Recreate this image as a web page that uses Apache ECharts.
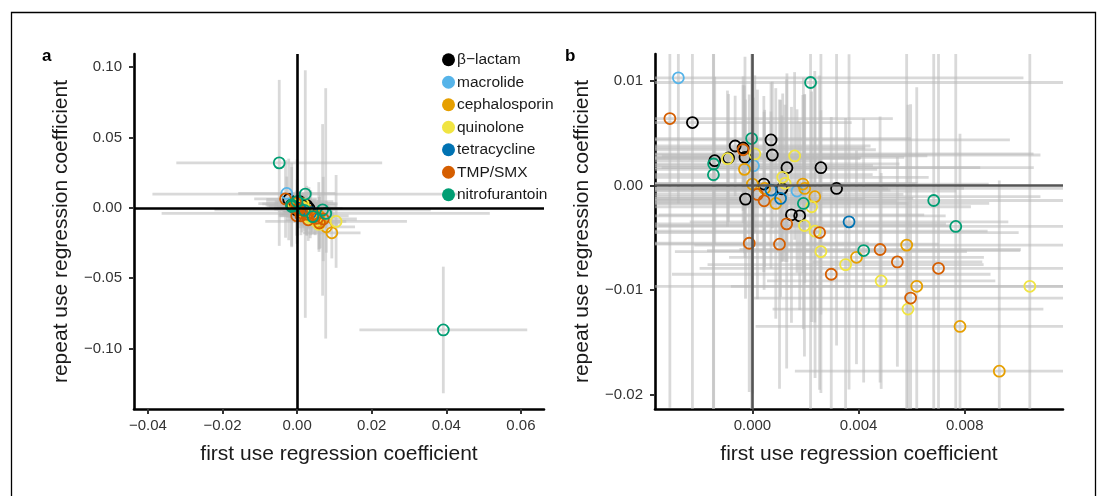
<!DOCTYPE html>
<html><head><meta charset="utf-8">
<script src="https://cdn.jsdelivr.net/npm/echarts@6/dist/echarts.min.js"></script>
<style>html,body{margin:0;padding:0;background:#fff}#c{width:1099px;height:496px}</style>
</head><body><div id="c"></div>
<script>
// ---------- data ----------
const drugClasses = ['β−lactam','macrolide','cephalosporin','quinolone','tetracycline','TMP/SMX','nitrofurantoin'];
const classOfPoint = [
  0,0,0,0,0,0,0,0,0,0,0,0,0,0,0,0,
  1,1,1,
  2,2,2,2,2,2,2,2,2,2,2,2,
  3,3,3,3,3,3,3,3,3,3,3,3,3,
  4,4,4,
  5,5,5,5,5,5,5,5,5,5,5,5,5,
  6,6,6,6,6,6,6,6,6,6
];
const firstUse = [
  -0.00226,0.0007,-0.00065,-0.00035,0.00075,-0.00028,-0.0009,-0.00142,0.0013,0.00258,0.00043,0.00317,0.00111,-0.00026,0.00147,0.00178,
  -0.00279,0.00004,0.00168,
  -0.0003,0.0,0.0019,0.00197,0.00046,0.00088,0.00235,0.00581,0.00392,0.00619,0.00782,0.0093,
  0.00009,0.00159,-0.00094,0.00114,0.00123,0.00223,0.00196,0.00236,0.00258,0.00351,0.00485,0.01045,0.00586,
  0.0007,0.00106,0.00364,
  -0.00311,-0.00035,0.00019,0.00044,0.00129,0.00253,-0.00012,0.00102,0.00481,0.00546,0.00701,0.00297,0.00596,
  0.00219,-0.00003,-0.00146,-0.00147,0.00192,0.00419,0.00683,0.00766,-0.0048,0.0392
];
const repeatUse = [
  0.0060,0.00434,0.00376,0.00357,0.0029,0.00268,0.00262,0.00236,0.00169,0.00169,0.00013,-0.00029,-0.00032,-0.00131,-0.00281,-0.0029,
  0.01027,0.00188,-0.00054,
  0.00153,0.00013,0.00013,-0.00029,-0.00029,-0.00172,-0.00108,-0.0057,-0.00686,-0.00963,-0.01346,-0.01773,
  0.003,0.00281,0.00255,0.00077,0.0002,-0.00204,-0.00383,-0.00437,-0.00632,-0.00756,-0.00912,-0.00963,-0.0118,
  -0.00045,-0.00124,-0.00348,
  0.00638,0.0034,-0.00086,-0.00147,-0.00367,-0.0045,-0.00552,-0.00561,-0.00612,-0.0073,-0.00791,-0.00848,-0.01075,
  0.00982,0.00447,0.00204,0.00102,-0.00172,-0.00622,-0.00144,-0.00392,0.032,-0.0868
];
const firstUseErr = [
  0.006,0.009,0.0051,0.0046,0.0101,0.006,0.005,0.004,0.0093,0.006,0.005,0.009,0.004,0.0045,0.005,0.0055,
  0.013,0.0045,0.006,
  0.005,0.0062,0.007,0.006,0.0045,0.005,0.0085,0.008,0.0048,0.007,0.0077,0.0077,
  0.0105,0.005,0.005,0.0055,0.005,0.006,0.0055,0.0065,0.0055,0.0052,0.0043,0.019,0.0051,
  0.0045,0.005,0.006,
  0.0084,0.005,0.0055,0.005,0.006,0.0075,0.0045,0.006,0.0053,0.0032,0.009,0.006,0.0059,
  0.041,0.006,0.007,0.006,0.007,0.0059,0.029,0.044,0.0276,0.0225
];
const repeatUseErr = [
  0.029,0.0055,0.0048,0.006,0.007,0.0096,0.0061,0.008,0.009,0.014,0.0084,0.015,0.007,0.0095,0.0103,0.009,
  0.012,0.0065,0.0078,
  0.008,0.02,0.0085,0.009,0.0075,0.011,0.012,0.024,0.0102,0.019,0.0184,0.0182,
  0.0075,0.008,0.0065,0.008,0.0075,0.011,0.0125,0.014,0.0135,0.014,0.0103,0.033,0.0195,
  0.0075,0.0094,0.016,
  0.0276,0.007,0.01,0.0085,0.0138,0.015,0.0142,0.0138,0.0127,0.0100,0.03,0.015,0.0185,
  0.088,0.03,0.03,0.028,0.012,0.0126,0.061,0.089,0.059,0.045
];
const panelAXTicks = [-0.04,-0.02,0,0.02,0.04,0.06];
const panelAXLabels = ['−0.04','−0.02','0.00','0.02','0.04','0.06'];
const panelAYTicks = [-0.10,-0.05,0,0.05,0.10];
const panelAYLabels = ['−0.10','−0.05','0.00','0.05','0.10'];
const panelBXTicks = [0,0.004,0.008];
const panelBXLabels = ['0.000','0.004','0.008'];
const panelBYTicks = [-0.02,-0.01,0,0.01];
const panelBYLabels = ['−0.02','−0.01','0.00','0.01'];

// ---------- styles ----------
const palette = ['#000000','#56B4E9','#E69F00','#F0E442','#0072B2','#D55E00','#009E73'];
const FONT = '"Liberation Sans", Arial, sans-serif';

function labelFor(ticks, labels){
  return v => { for (let i=0;i<ticks.length;i++) if (Math.abs(ticks[i]-v)<1e-9) return labels[i]; return ''; };
}

function xAxisCfg(grid, min, max, ticks, labels){
  return {
    type:'value', gridIndex:grid, min, max,
    name:'first use regression coefficient', nameLocation:'middle', nameGap:35,
    nameTextStyle:{fontFamily:FONT, fontSize:21, color:'#1a1a1a'},
    axisLine:{show:true, onZero:false, lineStyle:{color:'#000', width:2.6}},
    axisTick:{show:true, customValues:ticks, length:5, lineStyle:{color:'#333', width:2}},
    axisLabel:{customValues:ticks, formatter:labelFor(ticks,labels), margin:9, fontFamily:FONT, fontSize:15, color:'#333'},
    splitLine:{show:false}
  };
}
function yAxisCfg(grid, min, max, ticks, labels){
  return {
    type:'value', gridIndex:grid, min, max,
    name:'repeat use regression coefficient', nameLocation:'middle', nameGap:62,
    nameTextStyle:{fontFamily:FONT, fontSize:21, color:'#1a1a1a'},
    axisLine:{show:true, onZero:false, lineStyle:{color:'#000', width:2.6}},
    axisTick:{show:true, customValues:ticks, length:5, lineStyle:{color:'#333', width:2}},
    axisLabel:{customValues:ticks, formatter:labelFor(ticks,labels), margin:12, fontFamily:FONT, fontSize:15, color:'#333'},
    splitLine:{show:false}
  };
}

const errData = firstUse.map((x,i)=>[x, repeatUse[i], firstUseErr[i], repeatUseErr[i]]);

function errorBarSeries(grid){
  return {
    type:'custom', xAxisIndex:grid, yAxisIndex:grid, z:1, silent:true,
    data: errData, encode:{x:0, y:1},
    renderItem:(params, api)=>{
      const x=api.value(0), y=api.value(1), ex=api.value(2), ey=api.value(3);
      const cs=params.coordSys;
      const x0=cs.x, x1=cs.x+cs.width, y0=cs.y, y1=cs.y+cs.height;
      const cx=v=>Math.max(x0,Math.min(x1,v)), cy=v=>Math.max(y0,Math.min(y1,v));
      const l=api.coord([x-ex,y]), r=api.coord([x+ex,y]);
      const t=api.coord([x,y+ey]), b=api.coord([x,y-ey]);
      const st={stroke:'rgba(185,185,185,0.55)', lineWidth:2.8};
      const ch=[];
      if (l[1]>=y0 && l[1]<=y1 && r[0]>x0 && l[0]<x1)
        ch.push({type:'line', shape:{x1:cx(l[0]),y1:l[1],x2:cx(r[0]),y2:r[1]}, style:st});
      if (t[0]>=x0 && t[0]<=x1 && b[1]>y0 && t[1]<y1)
        ch.push({type:'line', shape:{x1:t[0],y1:cy(t[1]),x2:b[0],y2:cy(b[1])}, style:st});
      return {type:'group', children:ch};
    }
  };
}

function zeroLineSeries(grid, color){
  return {
    type:'scatter', name:'zero'+grid, xAxisIndex:grid, yAxisIndex:grid, z:2, data:[], silent:true,
    markLine:{silent:true, symbol:['none','none'], label:{show:false}, animation:false,
      lineStyle:{color, width:2.6, type:'solid'},
      data:[{xAxis:0},{yAxis:0}]}
  };
}

function pointSeries(grid){
  return drugClasses.map((name,k)=>({
    type:'scatter', name, xAxisIndex:grid, yAxisIndex:grid, z:3,
    symbol:'circle', symbolSize:11,
    itemStyle:{color:'rgba(255,255,255,0)', borderColor:palette[k], borderWidth:1.8, opacity:1},
    data: firstUse.map((x,i)=>classOfPoint[i]===k ? [x, repeatUse[i]] : null).filter(d=>d),
    clip:true
  }));
}

const chart = echarts.init(document.getElementById('c'), null, {renderer:'canvas'});
chart.setOption({
  animation:false,
  backgroundColor:'#fff',
  grid:[
    {left:134, right:555, top:54, bottom:87},
    {left:655, right:36, top:54, bottom:87}
  ],
  xAxis:[
    xAxisCfg(0, -0.04375, 0.0662, panelAXTicks, panelAXLabels),
    xAxisCfg(1, -0.00367, 0.0117, panelBXTicks, panelBXLabels)
  ],
  yAxis:[
    yAxisCfg(0, -0.143, 0.1094, panelAYTicks, panelAYLabels),
    yAxisCfg(1, -0.02134, 0.01254, panelBYTicks, panelBYLabels)
  ],
  legend:{
    orient:'vertical', left:437, top:46, itemWidth:13, itemHeight:13, itemGap:5,
    selectedMode:false,
    textStyle:{fontFamily:FONT, fontSize:15.5, color:'#1a1a1a', lineHeight:17.5, padding:[0,0,0,-3]},
    data: drugClasses.map((n,i)=>({name:n, icon:'circle', itemStyle:{color:palette[i], borderWidth:0}}))
  },
  graphic:[
    {type:'rect', shape:{x:11.5, y:12.5, width:1084, height:520}, style:{fill:'none', stroke:'#000', lineWidth:1.3}, silent:true},
    {type:'text', left:42, top:48, style:{text:'a', font:'bold 17px '+FONT, fill:'#000'}},
    {type:'text', left:565, top:48, style:{text:'b', font:'bold 17px '+FONT, fill:'#000'}}
  ],
  series:[
    errorBarSeries(0), errorBarSeries(1),
    zeroLineSeries(0, '#000'), zeroLineSeries(1, '#555'),
    ...pointSeries(0), ...pointSeries(1)
  ]
});
</script></body></html>
